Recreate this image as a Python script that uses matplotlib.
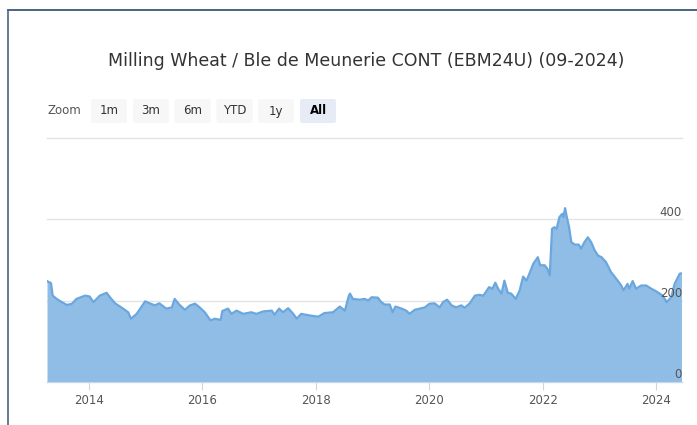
import matplotlib.pyplot as plt
from matplotlib.patches import FancyBboxPatch

title = 'Milling Wheat / Ble de Meunerie CONT (EBM24U) (09-2024)'
zoom_buttons = ['1m', '3m', '6m', 'YTD', '1y', 'All']
tick_years = [2014, 2016, 2018, 2020, 2022, 2024]
y_ticks = [0, 200, 400, 600]
y_labels = ['0', '200', '400']

# decimal year, price
years = [2013.26, 2013.33, 2013.36, 2013.43, 2013.52, 2013.61, 2013.70, 2013.78, 2013.93,
         2014.01, 2014.08, 2014.19, 2014.31, 2014.37, 2014.46, 2014.60, 2014.69, 2014.74,
         2014.84, 2014.99, 2015.07, 2015.16, 2015.24, 2015.36, 2015.46, 2015.51, 2015.59,
         2015.69, 2015.78, 2015.87, 2015.95, 2016.04, 2016.14, 2016.22, 2016.32, 2016.35,
         2016.45, 2016.51, 2016.60, 2016.72, 2016.86, 2016.95, 2017.07, 2017.22, 2017.27,
         2017.35, 2017.42, 2017.51, 2017.60, 2017.66, 2017.74, 2017.89, 2018.04, 2018.15,
         2018.30, 2018.42, 2018.51, 2018.58, 2018.60, 2018.65, 2018.77, 2018.86, 2018.92,
         2018.98, 2019.09, 2019.15, 2019.21, 2019.30, 2019.35, 2019.40, 2019.51, 2019.59,
         2019.65, 2019.74, 2019.83, 2019.92, 2020.00, 2020.09, 2020.18, 2020.24, 2020.31,
         2020.39, 2020.47, 2020.56, 2020.62, 2020.71, 2020.80, 2020.88, 2020.95, 2021.05,
         2021.11, 2021.16, 2021.21, 2021.27, 2021.32, 2021.38, 2021.44, 2021.52, 2021.59,
         2021.65, 2021.71, 2021.76, 2021.83, 2021.91, 2021.95, 2022.03, 2022.08, 2022.12,
         2022.16, 2022.20, 2022.24, 2022.29, 2022.34, 2022.36, 2022.39, 2022.42, 2022.46,
         2022.50, 2022.56, 2022.63, 2022.67, 2022.73, 2022.79, 2022.85, 2022.91, 2022.97,
         2023.03, 2023.11, 2023.20, 2023.29, 2023.38, 2023.42, 2023.49, 2023.52, 2023.58,
         2023.64, 2023.73, 2023.82, 2023.91, 2023.99, 2024.11, 2024.18, 2024.26, 2024.32,
         2024.41, 2024.44]
prices = [248, 243, 212, 204, 196, 189, 192, 204, 212,
          210, 196, 212, 219, 208, 193, 180, 171, 155,
          167, 198, 193, 188, 193, 180, 183, 204, 190,
          177, 188, 192, 183, 171, 151, 155, 152, 174,
          180, 167, 175, 167, 171, 167, 173, 175, 165,
          180, 171, 181, 167, 155, 167, 163, 160, 169,
          171, 185, 175, 212, 217, 204, 202, 204, 200,
          208, 207, 196, 190, 190, 171, 185, 180, 175,
          167, 177, 180, 183, 192, 193, 183, 196, 202,
          188, 183, 188, 182, 193, 212, 214, 212, 233,
          229, 244, 229, 217, 249, 219, 217, 204, 225,
          259, 249, 266, 291, 307, 287, 287, 278, 262,
          377, 381, 377, 406, 414, 406, 428, 406, 381,
          344, 338, 338, 328, 344, 356, 344, 324, 311,
          307, 295, 270, 254, 237, 225, 241, 229, 248,
          229, 237, 237, 229, 223, 212, 196, 208, 241,
          266, 267]

W, H = 697, 425
fig = plt.figure(figsize=(W / 100, H / 100), dpi=100)
fig.patch.set_facecolor('white')

# outer frame (top and left edges visible)
fig.add_artist(plt.Line2D([7.5 / W, 1], [1 - 10 / H, 1 - 10 / H], color='#2b4a6b', lw=1.2))
fig.add_artist(plt.Line2D([7.5 / W, 7.5 / W], [0, 1 - 10 / H], color='#4f6581', lw=1.2))

left, right, bottom, top = 47, 682, 381.5, 138.5
ax = fig.add_axes([left / W, 1 - bottom / H, (right - left) / W, (bottom - top) / H])

ax.fill_between(years, prices, 0, color='#8fbde6', lw=0, zorder=2)
ax.plot(years, prices, color='#6aa7de', lw=1.6, zorder=3)

ax.set_xlim(2013.26, 2024.45)
ax.set_ylim(0, 600)
ax.set_yticks(y_ticks)
ax.yaxis.grid(True, color='#e3e3e3', lw=1)
for g in ax.get_ygridlines():
    g.set_clip_on(False)
ax.set_axisbelow(True)
ax.tick_params(axis='y', left=False, labelleft=False)
ax.set_xticks(tick_years)
ax.set_xticklabels([str(y) for y in tick_years])
ax.tick_params(axis='x', length=6, color='#ccd6eb', labelsize=8.5, labelcolor='#555555', pad=3)
for s in ['top', 'right', 'left']:
    ax.spines[s].set_visible(False)
ax.spines['bottom'].set_color('#ccd6eb')

for lab in y_labels:
    ax.annotate(lab, xy=(1, float(lab)), xycoords=('axes fraction', 'data'),
                xytext=(0, 5), textcoords='offset points', ha='right', va='center',
                fontsize=8.5, color='#555555', zorder=5)

fig.text(366 / W, 1 - 61 / H, title, ha='center', va='center', fontsize=12.5, color='#333333')

# range selector
fig.text(48 / W, 1 - 111 / H, 'Zoom', ha='left', va='center', fontsize=8.5, color='#555555')
btn_x = [91, 133, 174.5, 216.5, 258, 300]
for lab, bx in zip(zoom_buttons, btn_x):
    selected = lab == 'All'
    fig.add_artist(FancyBboxPatch((bx / W, 1 - 123 / H), 36 / W, 24 / H,
                                  boxstyle='round,pad=0,rounding_size=0.004',
                                  transform=fig.transFigure,
                                  facecolor='#e6ebf5' if selected else '#f7f7f7', edgecolor='none'))
    fig.text((bx + 18) / W, 1 - 111 / H, lab, ha='center', va='center', fontsize=8.5,
             color='#000000' if selected else '#333333',
             fontweight='bold' if selected else 'normal')

fig.savefig('out.png', dpi=100)
